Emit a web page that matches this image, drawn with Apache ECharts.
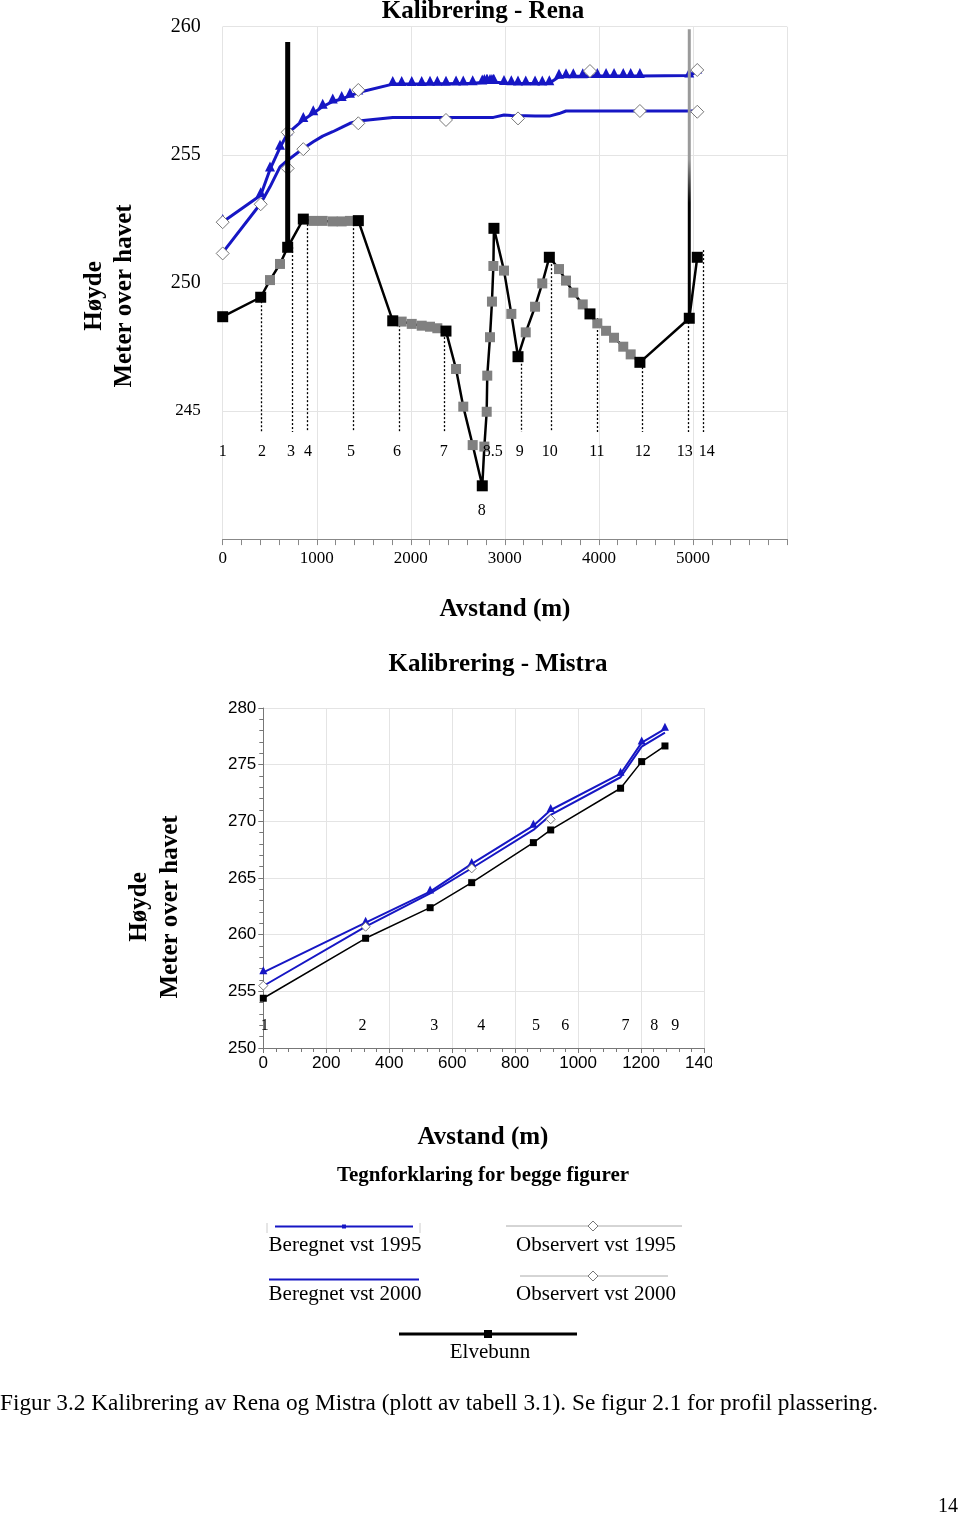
<!DOCTYPE html>
<html><head><meta charset="utf-8">
<script src="https://cdn.jsdelivr.net/npm/echarts@6/dist/echarts.min.js"></script>
<style>
html,body{margin:0;padding:0;background:#fff;}
#main{position:absolute;left:0;top:0;width:960px;height:1517px;}
#mistra{position:absolute;left:0;top:0;width:712px;height:1100px;}
</style></head>
<body>
<div id="main"></div>
<div id="mistra"></div>
<script>
// ---------------- DATA: Rena ----------------
const renaX = [0, 404, 503, 609, 691, 857, 963, 1063, 1170, 1265, 1353, 1442, 1808, 1903, 2010, 2116, 2204, 2282, 2374, 2481, 2558, 2658, 2760, 2782, 2807, 2813, 2842, 2863, 2878, 2884, 2991, 3069, 3140, 3222, 3321, 3398, 3473, 3576, 3650, 3728, 3828, 3905, 3983, 4076, 4161, 4259, 4338, 4436, 4961, 5046];
const renaSection = ['1','2','','','3','4','','','','','','5','6','','','','','','7','','','','8','','','','','','','8.5','','','9','','','','10','','','','','11','','','','','','12','13','14'];
const renaBed = [248.68, 249.44, 250.11, 250.74, 251.39, 252.49, 252.42, 252.42, 252.40, 252.40, 252.42, 252.43, 248.52, 248.49, 248.40, 248.33, 248.29, 248.23, 248.12, 246.64, 245.17, 243.67, 242.08, 243.61, 244.97, 246.38, 247.88, 249.27, 250.66, 252.13, 250.48, 248.79, 247.12, 248.07, 249.07, 249.98, 251.00, 250.54, 250.09, 249.62, 249.16, 248.79, 248.42, 248.13, 247.86, 247.51, 247.21, 246.90, 248.62, 251.00];
const renaCalc1995 = [252.38, 253.42, 254.43, 255.28, 255.84, 256.36, 256.62, 256.88, 257.08, 257.18, 257.30, 257.43,
  257.76, 257.76, 257.76, 257.76, 257.77, 257.77, 257.77, 257.78, 257.78, 257.79, 257.82,
  257.84, 257.84, 257.84, 257.84, 257.84, 257.84, 257.84,
  257.80, 257.79, 257.78, 257.78, 257.78, 257.78, 257.79,
  258.05, 258.07, 258.07, 258.07, 258.08, 258.08, 258.08, 258.08, 258.08, 258.08, 258.08,
  258.10, 258.25];
const renaCalc2000 = [251.18, 253.10, 253.75, 254.53, 254.79, 255.25, 255.51, 255.73, 255.90, 256.07, 256.23, 256.32,
  256.46, 256.46, 256.46, 256.46, 256.46, 256.46, 256.46, 256.46, 256.46, 256.46, 256.46,
  256.46, 256.46, 256.46, 256.46, 256.46, 256.46, 256.46,
  256.55, 256.53, 256.52, 256.52, 256.51, 256.51, 256.51,
  256.61, 256.71, 256.71, 256.71, 256.71, 256.71, 256.71, 256.71, 256.71, 256.71, 256.71,
  256.71, 256.71];
const renaObs1995X = [0, 691, 1442, 3905, 5046];
const renaObs1995Y = [252.37, 255.88, 257.53, 258.27, 258.31];
const renaObs2000X = [0, 404, 691, 857, 1442, 2374, 3140, 4436, 5046];
const renaObs2000Y = [251.15, 253.07, 254.47, 255.22, 256.23, 256.36, 256.42, 256.71, 256.68];
// vertical profile marker lines (distance, top elevation), bottom elevation shared
const renaProfileLineX = [404, 736, 896, 1385, 1870, 2355, 3167, 3489, 3975, 4463, 4952, 5112];
const renaProfileLineTop = [249.44, 251.40, 252.45, 252.45, 248.35, 248.04, 247.00, 251.20, 248.63, 246.87, 248.47, 251.28];
const renaProfileLineBottom = 244.18;
// profile number labels
const renaLabelNames = ['1','2','3','4','5','6','7','8.5','9','10','11','12','13','14','8'];
const renaLabelX = [0, 418, 726, 906, 1364, 1852, 2351, 2872, 3159, 3478, 3978, 4467, 4913, 5147, 2755];
const renaLabelY = [243.4,243.4,243.4,243.4,243.4,243.4,243.4,243.4,243.4,243.4,243.4,243.4,243.4,243.4,241.1];
// bridge spikes (distance, low, high)
const renaBridgeX = [691, 4961];
const renaBridgeLow = [251.39, 248.62];
const renaBridgeHigh = [259.40, 259.90];
const renaXTicks = [0, 1000, 2000, 3000, 4000, 5000, 6000];
const renaYTicks = [240, 245, 250, 255, 260];

// ---------------- DATA: Mistra ----------------
const mistraX = [0, 325, 530, 662, 858, 913, 1135, 1202, 1276];
const mistraBed = [254.39, 259.68, 262.38, 264.59, 268.12, 269.24, 272.92, 275.27, 276.65];
const mistraCalc1995 = [256.68, 261.06, 263.80, 266.24, 269.62, 271.00, 274.20, 276.95, 278.16];
const mistraCalc2000 = [255.47, 260.71, 263.65, 265.86, 269.24, 270.56, 273.89, 276.59, 277.83];
const mistraObsX = [0, 325, 662, 913];
const mistraObsY = [255.50, 260.70, 265.85, 270.18];
const mistraLabelNames = ['1','2','3','4','5','6','7','8','9'];
const mistraLabelX = [5, 315, 543, 692, 866, 959, 1151, 1242, 1309];
const mistraLabelY = 252.0;

// ---------------- STYLE ----------------
const SERIF = '"Liberation Serif", "Times New Roman", serif';
const SANS = '"Liberation Sans", Arial, sans-serif';
const BLUE = '#1616c4';
const GRIDC = '#e4e4e4';

const zip = (a, b) => a.map((v, i) => [v, b[i]]);

// ---------------- MAIN CHART (Rena + texts + legend) ----------------
const main = echarts.init(document.getElementById('main'));

function txt(x, y, text, size, bold, align, rot) {
  return {
    type: 'text', x: x, y: y, rotation: rot || 0, z: 100,
    style: {
      text: text, fill: '#000',
      font: (bold ? 'bold ' : '') + size + 'px ' + SERIF,
      align: align || 'center', verticalAlign: 'middle',
      textAlign: align || 'center', textVerticalAlign: 'middle'
    }
  };
}
function diamond(cx, cy, r) {
  return { type: 'polygon', z: 100, shape: { points: [[cx, cy - r], [cx + r, cy], [cx, cy + r], [cx - r, cy]] },
    style: { fill: '#fff', stroke: '#777', lineWidth: 1 } };
}
function hline(x1, x2, y, color, w) {
  return { type: 'line', z: 99, shape: { x1: x1, y1: y, x2: x2, y2: y }, style: { stroke: color, lineWidth: w } };
}

const graphics = [
  txt(483, 12, 'Kalibrering - Rena', 25, true),
  txt(95, 296, 'Høyde', 25, true, 'center', Math.PI / 2),
  txt(125, 296, 'Meter over havet', 25, true, 'center', Math.PI / 2),
  txt(505, 610, 'Avstand (m)', 25, true),
  txt(498, 665, 'Kalibrering - Mistra', 25, true),
  txt(140, 907, 'Høyde', 25, true, 'center', Math.PI / 2),
  txt(171, 907, 'Meter over havet', 25, true, 'center', Math.PI / 2),
  txt(483, 1138, 'Avstand (m)', 25, true),
  txt(483, 1176, 'Tegnforklaring for begge figurer', 21, true),
  // legend: Beregnet 1995
  { type: 'line', z: 99, shape: { x1: 267, y1: 1223, x2: 267, y2: 1233 }, style: { stroke: '#ccc', lineWidth: 1 } },
  { type: 'line', z: 99, shape: { x1: 420, y1: 1223, x2: 420, y2: 1233 }, style: { stroke: '#ccc', lineWidth: 1 } },
  hline(275, 413, 1226.5, BLUE, 2),
  { type: 'rect', z: 100, shape: { x: 342, y: 1224.5, width: 4, height: 4 }, style: { fill: BLUE } },
  txt(345, 1245, 'Beregnet vst 1995', 21, false),
  hline(269, 419, 1279.5, BLUE, 2),
  txt(345, 1294, 'Beregnet vst 2000', 21, false),
  hline(506, 682, 1226, '#aaa', 1),
  diamond(593, 1226, 5),
  txt(596, 1245, 'Observert vst 1995', 21, false),
  hline(520, 668, 1276, '#aaa', 1),
  diamond(593, 1276, 5),
  txt(596, 1294, 'Observert vst 2000', 21, false),
  hline(399, 577, 1334, '#000', 3),
  { type: 'rect', z: 100, shape: { x: 484, y: 1330, width: 8, height: 8 }, style: { fill: '#000' } },
  txt(490, 1352, 'Elvebunn', 21, false),
  txt(0, 1404, 'Figur 3.2 Kalibrering av Rena og Mistra (plott av tabell 3.1). Se figur 2.1 for profil plassering.', 23.3, false, 'left'),
  txt(948, 1507, '14', 20, false)
];

const profileData = renaX.map((x, i) => ({ value: [x, renaBed[i]], prof: renaSection[i] !== '' }));

main.setOption({
  animation: false,
  backgroundColor: '#fff',
  grid: [{ left: 222.7, top: 26.7, width: 564.3, height: 512.4, containLabel: false, outerBoundsMode: 'none' }],
  xAxis: [{
    type: 'value', min: renaXTicks[0], max: renaXTicks[renaXTicks.length - 1], interval: 1000,
    axisLine: { show: true, lineStyle: { color: '#888', width: 1 } },
    axisTick: { show: true, length: 6, lineStyle: { color: '#888' } },
    minorTick: { show: true, splitNumber: 5, length: 6, lineStyle: { color: '#888' } },
    splitLine: { show: true, lineStyle: { color: GRIDC, width: 1 } },
    axisLabel: { fontFamily: SERIF, fontSize: 17, color: '#000', margin: 11,
      formatter: v => (v >= 6000 ? '' : String(v)) }
  }],
  yAxis: [{
    type: 'value', min: renaYTicks[0], max: renaYTicks[renaYTicks.length - 1], interval: 5,
    axisLine: { show: false }, axisTick: { show: false },
    splitLine: { show: true, lineStyle: { color: GRIDC, width: 1 } },
    axisLabel: { fontFamily: SERIF, fontSize: 20, color: '#000', margin: 22,
      formatter: v => (v === 240 ? '' : (v === 245 ? '{s|245}' : String(v))),
      rich: { s: { fontFamily: SERIF, fontSize: 17, color: '#000' } } }
  }],
  graphic: graphics,
  series: [
    { // dotted profile lines
      type: 'custom', silent: true, z: 1,
      data: renaProfileLineX.map((x, i) => [x, renaProfileLineTop[i], renaProfileLineBottom]),
      encode: { x: 0, y: [1, 2] },
      renderItem: function (params, api) {
        const p1 = api.coord([api.value(0), api.value(1)]);
        const p2 = api.coord([api.value(0), api.value(2)]);
        return { type: 'line', shape: { x1: Math.round(p1[0]) + 0.5, y1: p1[1], x2: Math.round(p2[0]) + 0.5, y2: p2[1] },
          style: { stroke: '#000', lineWidth: 1.3, lineDash: [2, 2] } };
      }
    },
    { name: 'Beregnet vst 2000', type: 'line', z: 2, data: zip(renaX, renaCalc2000), symbol: 'none',
      lineStyle: { color: BLUE, width: 3 } },
    { name: 'Beregnet vst 1995', type: 'line', z: 3, data: zip(renaX, renaCalc1995), symbol: 'triangle',
      symbolSize: 10, symbolOffset: [0, -3], showAllSymbol: true,
      itemStyle: { color: BLUE }, lineStyle: { color: BLUE, width: 3 } },
    { name: 'Elvebunn', type: 'line', z: 4, data: zip(renaX, renaBed), symbol: 'none',
      lineStyle: { color: '#000', width: 2.5 } },
    { name: 'Interpolert', type: 'scatter', z: 5, symbol: 'rect', symbolSize: 10,
      data: profileData.filter(d => !d.prof).map(d => d.value), itemStyle: { color: '#808080', opacity: 1 } },
    { name: 'Profil', type: 'scatter', z: 6, symbol: 'rect', symbolSize: 11,
      data: profileData.filter(d => d.prof).map(d => d.value), itemStyle: { color: '#000', opacity: 1 } },
    { name: 'Observert vst 1995', type: 'scatter', z: 7, symbol: 'diamond', symbolSize: 13,
      data: zip(renaObs1995X, renaObs1995Y), itemStyle: { color: '#fff', borderColor: '#777', borderWidth: 1, opacity: 1 } },
    { name: 'Observert vst 2000', type: 'scatter', z: 7, symbol: 'diamond', symbolSize: 13,
      data: zip(renaObs2000X, renaObs2000Y), itemStyle: { color: '#fff', borderColor: '#777', borderWidth: 1, opacity: 1 } },
    { // bridge spikes
      type: 'custom', silent: true, z: 8,
      data: renaBridgeX.map((x, i) => [x, renaBridgeLow[i], renaBridgeHigh[i]]),
      encode: { x: 0, y: [1, 2] },
      renderItem: function (params, api) {
        const p1 = api.coord([api.value(0), api.value(1)]);
        const p2 = api.coord([api.value(0), api.value(2)]);
        const first = params.dataIndex === 0;
        return { type: 'line', shape: { x1: p1[0], y1: p1[1], x2: p2[0], y2: p2[1] },
          style: { lineWidth: first ? 5 : 3,
            stroke: first ? '#000' : new echarts.graphic.LinearGradient(0, 0, 0, 1, [
              { offset: 0, color: '#9a9a9a' }, { offset: 0.45, color: '#9a9a9a' }, { offset: 0.6, color: '#000' }, { offset: 1, color: '#000' }], false) } };
      }
    },
    { // profile labels
      type: 'scatter', z: 9, symbolSize: 1, silent: true,
      itemStyle: { color: 'rgba(0,0,0,0)', opacity: 1 },
      data: renaLabelNames.map((n, i) => ({ name: n, value: [renaLabelX[i], renaLabelY[i]] })),
      label: { show: true, position: 'inside', formatter: p => p.name, fontFamily: SERIF, fontSize: 16, color: '#000', opacity: 1 }
    }
  ]
});

// ---------------- MISTRA CHART ----------------
const mis = echarts.init(document.getElementById('mistra'));
mis.setOption({
  animation: false,
  grid: [{ left: 263.3, top: 708, width: 440.7, height: 340, containLabel: false, outerBoundsMode: 'none' }],
  xAxis: [{
    type: 'value', min: 0, max: 1400, interval: 200,
    axisLine: { show: true, lineStyle: { color: '#777', width: 1 } },
    axisTick: { show: true, length: 5, lineStyle: { color: '#777' } },
    minorTick: { show: true, splitNumber: 5, length: 4, lineStyle: { color: '#777' } },
    splitLine: { show: true, lineStyle: { color: GRIDC } },
    axisLabel: { fontFamily: SANS, fontSize: 17, color: '#000', margin: 7, formatter: v => String(v) }
  }],
  yAxis: [{
    type: 'value', min: 250, max: 280, interval: 5,
    axisLine: { show: true, lineStyle: { color: '#777', width: 1 } },
    axisTick: { show: true, length: 5, lineStyle: { color: '#777' } },
    minorTick: { show: true, splitNumber: 5, length: 4, lineStyle: { color: '#777' } },
    splitLine: { show: true, lineStyle: { color: GRIDC } },
    axisLabel: { fontFamily: SANS, fontSize: 17, color: '#000', margin: 7, formatter: v => String(v) }
  }],
  series: [
    { name: 'Beregnet vst 2000', type: 'line', z: 2, data: zip(mistraX, mistraCalc2000), symbol: 'none',
      lineStyle: { color: BLUE, width: 2 } },
    { name: 'Beregnet vst 1995', type: 'line', z: 3, data: zip(mistraX, mistraCalc1995), symbol: 'triangle',
      symbolSize: 8, symbolOffset: [0, -2], itemStyle: { color: BLUE }, lineStyle: { color: BLUE, width: 2 } },
    { name: 'Elvebunn', type: 'line', z: 4, data: zip(mistraX, mistraBed), symbol: 'rect', symbolSize: 7,
      itemStyle: { color: '#000' }, lineStyle: { color: '#000', width: 1.5 } },
    { name: 'Observert', type: 'scatter', z: 5, symbol: 'diamond', symbolSize: 9,
      data: zip(mistraObsX, mistraObsY), itemStyle: { color: '#fff', borderColor: '#777', borderWidth: 1, opacity: 1 } },
    { type: 'scatter', z: 9, symbolSize: 1, silent: true, itemStyle: { color: 'rgba(0,0,0,0)', opacity: 1 },
      data: mistraLabelNames.map((n, i) => ({ name: n, value: [mistraLabelX[i], mistraLabelY] })),
      label: { show: true, position: 'inside', formatter: p => p.name, fontFamily: SERIF, fontSize: 16, color: '#000', opacity: 1 } }
  ]
});
</script>
</body></html>
